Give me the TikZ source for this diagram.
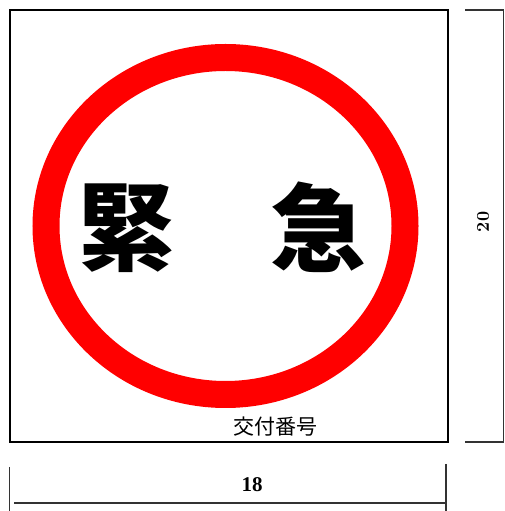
\documentclass[tikz,border=0pt]{standalone}
\usepackage{fontspec}
\newfontfamily\cjk{Noto Sans CJK JP}
\newfontfamily\timesf{Liberation Serif}
\begin{document}
\begin{tikzpicture}[x=1pt,y=1pt,
  frame/.style={draw=black,line width=2pt},
  dimline/.style={draw=black!80,line width=1.5pt},
  bigchar/.style={inner sep=0pt,font=\cjk\bfseries\fontsize{96}{96}\selectfont},
  smalltxt/.style={inner sep=0pt,font=\cjk\fontsize{21}{21}\selectfont},
  dimtxt/.style={inner sep=0pt}]
\useasboundingbox (0,0) rectangle (505,511);
% sign frame
\draw[frame] (9.5,69) rectangle (447.5,501);
% red ring
\draw[red,line width=27pt] (225.5,285) ellipse [x radius=179.5, y radius=168.5];
% main text
\node[bigchar] (c1) at (126.5,282.5) {緊};
\node[bigchar] (c2) at (318,284) {急};
\node[smalltxt] (no) at (275,84) {交付番号};
% right dimension bracket
\coordinate (rt) at (503.5,501);
\coordinate (rb) at (503.5,69);
\draw[dimline] (465,501) -- (rt) -- (rb) -- (465,69);
\node[dimtxt,rotate=90,font=\bfseries\fontsize{18}{18}\selectfont] (h) at (483,289) {20};
% bottom dimension
\draw[dimline] (9.5,44) -- (9.5,0);
\draw[dimline] (446,47) -- (446,0);
\coordinate (bl) at (14,8);
\coordinate (br) at (446,8);
\draw[dimline] (bl) -- (br);
\node[dimtxt,font=\timesf\bfseries\fontsize{21}{21}\selectfont] (w) at (252,26) {18};
\end{tikzpicture}
\end{document}
